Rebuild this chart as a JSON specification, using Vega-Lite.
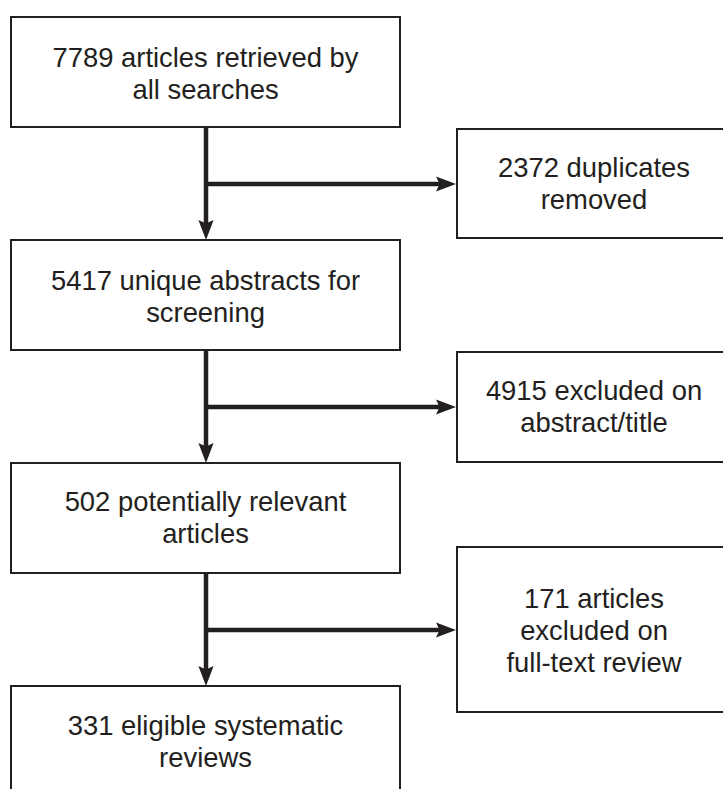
{
  "$schema": "https://vega.github.io/schema/vega-lite/v6.json",
  "width": 723,
  "height": 789,
  "padding": 0,
  "autosize": {"type": "none"},
  "background": "white",
  "config": {"view": {"stroke": null}},
  "datasets": {
    "boxes": [
      {"box": "b1", "x1": 11, "x2": 400, "y1": 17, "y2": 127, "tx": 205.5, "ty": 59, "label": "7789 articles retrieved by\nall searches"},
      {"box": "b2", "x1": 457, "x2": 731, "y1": 129, "y2": 238, "tx": 594, "ty": 169, "label": "2372 duplicates\nremoved"},
      {"box": "b3", "x1": 11, "x2": 400, "y1": 240, "y2": 350, "tx": 205.5, "ty": 282, "label": "5417 unique abstracts for\nscreening"},
      {"box": "b4", "x1": 457, "x2": 731, "y1": 352, "y2": 462, "tx": 594, "ty": 392, "label": "4915 excluded on\nabstract/title"},
      {"box": "b5", "x1": 11, "x2": 400, "y1": 463, "y2": 573, "tx": 205.5, "ty": 503, "label": "502 potentially relevant\narticles"},
      {"box": "b6", "x1": 457, "x2": 731, "y1": 547, "y2": 712, "tx": 594, "ty": 600, "label": "171 articles\nexcluded on\nfull-text review"},
      {"box": "b7", "x1": 11, "x2": 400, "y1": 686, "y2": 800, "tx": 205.5, "ty": 727, "label": "331 eligible systematic\nreviews"}
    ],
    "lines": [
      {"x1": 206, "x2": 206, "y1": 127, "y2": 230},
      {"x1": 206, "x2": 446, "y1": 184, "y2": 184},
      {"x1": 206, "x2": 206, "y1": 350, "y2": 453},
      {"x1": 206, "x2": 446, "y1": 407, "y2": 407},
      {"x1": 206, "x2": 206, "y1": 573, "y2": 676},
      {"x1": 206, "x2": 446, "y1": 630, "y2": 630}
    ],
    "heads": [
      {"x": 456, "y": 184, "dir": "right"},
      {"x": 206, "y": 240, "dir": "down"},
      {"x": 456, "y": 407, "dir": "right"},
      {"x": 206, "y": 463, "dir": "down"},
      {"x": 456, "y": 630, "dir": "right"},
      {"x": 206, "y": 686, "dir": "down"}
    ]
  },
  "layer": [
    {
      "data": {"name": "boxes"},
      "mark": {"type": "rect", "fill": "white", "stroke": "#231f20", "strokeWidth": 2, "clip": true},
      "encoding": {
        "x": {"field": "x1", "type": "quantitative", "scale": {"domain": [0, 723], "nice": false, "zero": false}, "axis": null},
        "x2": {"field": "x2"},
        "y": {"field": "y1", "type": "quantitative", "scale": {"domain": [0, 789], "nice": false, "zero": false, "reverse": true}, "axis": null},
        "y2": {"field": "y2"}
      }
    },
    {
      "data": {"name": "lines"},
      "mark": {"type": "rule", "stroke": "#231f20", "strokeWidth": 4.5},
      "encoding": {
        "x": {"field": "x1", "type": "quantitative", "scale": {"domain": [0, 723], "nice": false, "zero": false}, "axis": null},
        "x2": {"field": "x2"},
        "y": {"field": "y1", "type": "quantitative", "scale": {"domain": [0, 789], "nice": false, "zero": false, "reverse": true}, "axis": null},
        "y2": {"field": "y2"}
      }
    },
    {
      "data": {"name": "heads"},
      "mark": {"type": "point", "filled": true, "fill": "#231f20", "opacity": 1, "size": 1600, "strokeWidth": 0},
      "encoding": {
        "x": {"field": "x", "type": "quantitative", "scale": {"domain": [0, 723], "nice": false, "zero": false}, "axis": null},
        "y": {"field": "y", "type": "quantitative", "scale": {"domain": [0, 789], "nice": false, "zero": false, "reverse": true}, "axis": null},
        "shape": {"field": "dir", "type": "nominal", "scale": {"domain": ["right", "down"], "range": ["M0,0 L-1,-0.38 L-0.82,0 L-1,0.38 Z", "M0,0 L-0.38,-1 L0,-0.82 L0.38,-1 Z"]}, "legend": null}
      }
    },
    {
      "data": {"name": "boxes"},
      "mark": {"type": "text", "font": "Liberation Sans", "fontSize": 27.4, "lineHeight": 32, "lineBreak": "\n", "align": "center", "baseline": "middle", "color": "#231f20"},
      "encoding": {
        "x": {"field": "tx", "type": "quantitative", "scale": {"domain": [0, 723], "nice": false, "zero": false}, "axis": null},
        "y": {"field": "ty", "type": "quantitative", "scale": {"domain": [0, 789], "nice": false, "zero": false, "reverse": true}, "axis": null},
        "text": {"field": "label"}
      }
    }
  ]
}
